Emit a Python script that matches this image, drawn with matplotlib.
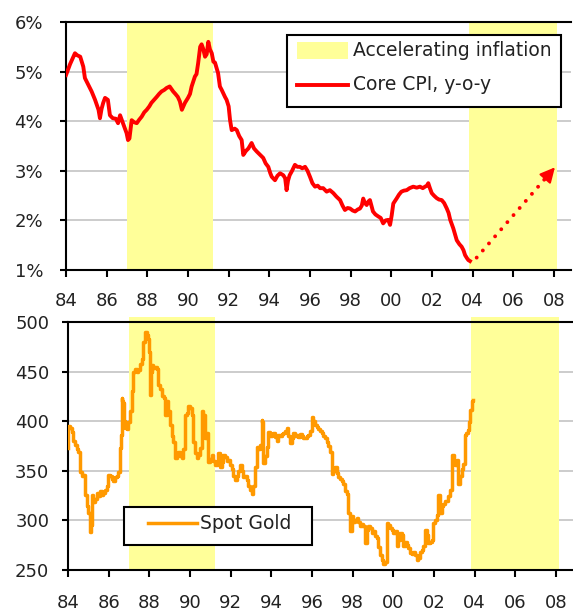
import matplotlib
matplotlib.use("Agg")
import matplotlib.pyplot as plt
from matplotlib.patches import Rectangle
from matplotlib.lines import Line2D

plt.rcParams['font.family'] = ['DejaVu Sans']

# Core CPI, year-over-year (%)
cpi_dates = [
    1984.0, 1984.2, 1984.44, 1984.55, 1984.7, 1984.85, 1984.93, 1985.1, 1985.26, 1985.43,
    1985.6, 1985.67, 1985.75, 1985.83, 1985.92, 1986.06, 1986.16, 1986.3, 1986.45, 1986.56,
    1986.66, 1986.8, 1986.98, 1987.05, 1987.12, 1987.23, 1987.35, 1987.48, 1987.6, 1987.72,
    1987.85, 1987.97, 1988.1, 1988.2, 1988.33, 1988.46, 1988.58, 1988.7, 1988.83, 1988.95,
    1989.1, 1989.27, 1989.38, 1989.5, 1989.6, 1989.7, 1989.85, 1990.0, 1990.1, 1990.18,
    1990.34, 1990.42, 1990.5, 1990.6, 1990.67, 1990.74, 1990.84, 1990.92, 1991.0, 1991.08,
    1991.17, 1991.25, 1991.33, 1991.48, 1991.57, 1991.66, 1991.82, 1991.9, 1992.0, 1992.07,
    1992.15, 1992.3, 1992.4, 1992.52, 1992.64, 1992.72, 1992.85, 1992.97, 1993.13, 1993.25,
    1993.38, 1993.55, 1993.7, 1993.82, 1993.95, 1994.05, 1994.12, 1994.28, 1994.4, 1994.53,
    1994.69, 1994.78, 1994.85, 1994.92, 1995.0, 1995.12, 1995.26, 1995.38, 1995.5, 1995.62,
    1995.76, 1995.88, 1996.0, 1996.12, 1996.25, 1996.38, 1996.5, 1996.65, 1996.82, 1996.98,
    1997.15, 1997.3, 1997.48, 1997.6, 1997.72, 1997.85, 1997.97, 1998.1, 1998.22, 1998.35,
    1998.46, 1998.55, 1998.62, 1998.7, 1998.79, 1998.87, 1998.95, 1999.02, 1999.1, 1999.22,
    1999.36, 1999.48, 1999.6, 1999.72, 1999.85, 1999.94, 2000.02, 2000.1, 2000.26, 2000.38,
    2000.5, 2000.62, 2000.76, 2000.9, 2001.08, 2001.25, 2001.41, 2001.55, 2001.66, 2001.75,
    2001.82, 2001.9, 2001.99, 2002.1, 2002.23, 2002.35, 2002.48, 2002.6, 2002.73, 2002.82,
    2002.9, 2003.05, 2003.15, 2003.22, 2003.35, 2003.46, 2003.55, 2003.63, 2003.72, 2003.79,
    2003.87,
]
cpi_values = [
    4.93, 5.15, 5.37, 5.33, 5.30, 5.10, 4.87, 4.73, 4.60, 4.43,
    4.23, 4.06, 4.25, 4.37, 4.47, 4.43, 4.12, 4.06, 4.05, 3.96,
    4.12, 3.96, 3.76, 3.62, 3.65, 4.02, 3.98, 3.96, 4.03, 4.09,
    4.18, 4.23, 4.30, 4.37, 4.43, 4.49, 4.55, 4.60, 4.63, 4.67,
    4.70, 4.60, 4.55, 4.49, 4.40, 4.23, 4.37, 4.47, 4.55, 4.70,
    4.90, 4.95, 5.17, 5.50, 5.55, 5.47, 5.30, 5.35, 5.60, 5.45,
    5.37, 5.20, 5.18, 4.97, 4.70, 4.63, 4.49, 4.43, 4.30, 4.02,
    3.82, 3.85, 3.82, 3.70, 3.62, 3.32, 3.40, 3.45, 3.56, 3.45,
    3.39, 3.32, 3.26, 3.15, 3.08, 2.95, 2.88, 2.81, 2.90, 2.95,
    2.91, 2.85, 2.61, 2.80, 2.91, 3.00, 3.12, 3.08, 3.08, 3.05,
    3.08, 3.00, 2.88, 2.75, 2.68, 2.70, 2.65, 2.65, 2.58, 2.61,
    2.55, 2.48, 2.41, 2.30, 2.21, 2.25, 2.24, 2.20, 2.18, 2.22,
    2.24, 2.30, 2.44, 2.35, 2.31, 2.38, 2.41, 2.30, 2.18, 2.12,
    2.08, 2.05, 1.94, 2.00, 2.01, 1.91, 2.10, 2.34, 2.44, 2.52,
    2.58, 2.60, 2.61, 2.65, 2.68, 2.66, 2.68, 2.65, 2.68, 2.70,
    2.75, 2.65, 2.55, 2.50, 2.45, 2.42, 2.41, 2.35, 2.24, 2.15,
    2.01, 1.84, 1.70, 1.60, 1.52, 1.47, 1.40, 1.30, 1.24, 1.20,
    1.18,
]

# Spot gold price (USD/oz)
gold_dates = [
    1984.0, 1984.02, 1984.1, 1984.18, 1984.26, 1984.34, 1984.42, 1984.5, 1984.59, 1984.67,
    1984.75, 1984.84, 1984.92, 1985.0, 1985.08, 1985.12, 1985.16, 1985.25, 1985.33, 1985.41,
    1985.5, 1985.58, 1985.66, 1985.74, 1985.82, 1985.9, 1985.98, 1986.06, 1986.15, 1986.23,
    1986.31, 1986.39, 1986.47, 1986.56, 1986.62, 1986.64, 1986.68, 1986.72, 1986.76, 1986.8,
    1986.88, 1986.97, 1987.05, 1987.13, 1987.21, 1987.3, 1987.38, 1987.46, 1987.54, 1987.62,
    1987.7, 1987.79, 1987.87, 1987.95, 1988.0, 1988.03, 1988.07, 1988.12, 1988.2, 1988.28,
    1988.36, 1988.45, 1988.54, 1988.62, 1988.7, 1988.78, 1988.86, 1988.94, 1989.02, 1989.1,
    1989.18, 1989.26, 1989.35, 1989.43, 1989.51, 1989.59, 1989.67, 1989.75, 1989.83, 1989.92,
    1990.0, 1990.08, 1990.16, 1990.25, 1990.33, 1990.41, 1990.49, 1990.58, 1990.66, 1990.74,
    1990.82, 1990.9, 1990.98, 1991.07, 1991.15, 1991.23, 1991.31, 1991.39, 1991.48, 1991.56,
    1991.64, 1991.72, 1991.8, 1991.89, 1991.97, 1992.05, 1992.13, 1992.21, 1992.3, 1992.38,
    1992.46, 1992.54, 1992.62, 1992.7, 1992.79, 1992.87, 1992.95, 1993.03, 1993.12, 1993.2,
    1993.28, 1993.36, 1993.44, 1993.52, 1993.56, 1993.61, 1993.69, 1993.77, 1993.85, 1993.94,
    1994.02, 1994.1, 1994.18, 1994.27, 1994.35, 1994.43, 1994.52, 1994.6, 1994.68, 1994.76,
    1994.84, 1994.92, 1995.0, 1995.08, 1995.16, 1995.25, 1995.33, 1995.41, 1995.5, 1995.58,
    1995.66, 1995.74, 1995.82, 1995.9, 1995.99, 1996.07, 1996.15, 1996.23, 1996.32, 1996.4,
    1996.48, 1996.56, 1996.64, 1996.73, 1996.81, 1996.89, 1996.97, 1997.05, 1997.13, 1997.21,
    1997.3, 1997.38, 1997.46, 1997.54, 1997.62, 1997.71, 1997.79, 1997.87, 1997.95, 1998.03,
    1998.12, 1998.2, 1998.28, 1998.36, 1998.44, 1998.53, 1998.61, 1998.69, 1998.77, 1998.86,
    1998.94, 1999.02, 1999.1, 1999.18, 1999.26, 1999.35, 1999.43, 1999.51, 1999.59, 1999.67,
    1999.75, 1999.83, 1999.92, 2000.0, 2000.08, 2000.16, 2000.25, 2000.33, 2000.41, 2000.49,
    2000.57, 2000.66, 2000.74, 2000.82, 2000.9, 2000.99, 2001.07, 2001.15, 2001.23, 2001.32,
    2001.4, 2001.48, 2001.56, 2001.64, 2001.72, 2001.8, 2001.89, 2001.97, 2002.05, 2002.13,
    2002.21, 2002.3, 2002.38, 2002.46, 2002.54, 2002.62, 2002.7, 2002.79, 2002.87, 2002.9,
    2002.98, 2003.05, 2003.12, 2003.2, 2003.28, 2003.36, 2003.44, 2003.52, 2003.6, 2003.69,
    2003.72, 2003.77, 2003.85, 2003.93,
]
gold_values = [
    373, 395, 393, 389, 380, 376, 372, 369, 349, 345,
    346, 326, 315, 307, 288, 295, 326, 319, 322, 328,
    325, 330, 326, 328, 331, 335, 346, 345, 342, 340,
    344, 345, 349, 373, 386, 423, 420, 418, 400, 393,
    392, 399, 410, 430, 450, 453, 450, 452, 458, 463,
    480, 490, 487, 483, 470, 426, 450, 457, 454, 455,
    453, 436, 432, 425, 423, 406, 420, 410, 396, 385,
    379, 363, 365, 369, 365, 363, 372, 406, 408, 415,
    413, 406, 379, 368, 363, 366, 373, 410, 406, 383,
    388, 359, 362, 366, 360, 356, 360, 368, 354, 359,
    366, 364, 360, 361, 356, 352, 345, 341, 345, 350,
    356, 350, 344, 345, 341, 335, 331, 327, 335, 354,
    374, 372, 376, 401, 399, 358, 365, 374, 389, 385,
    386, 388, 384, 380, 386, 385, 387, 388, 390, 393,
    385, 378, 383, 388, 385, 386, 384, 387, 385, 383,
    383, 385, 386, 390, 404, 400, 396, 394, 392, 390,
    388, 385, 383, 379, 375, 369, 347, 350, 354, 348,
    344, 342, 340, 337, 330, 327, 307, 289, 304, 298,
    300, 302, 298, 294, 296, 294, 277, 290, 294, 292,
    287, 289, 284, 282, 273, 265, 260, 256, 258, 297,
    295, 292, 290, 287, 289, 274, 280, 287, 285, 274,
    278, 275, 272, 267, 266, 268, 265, 260, 262, 268,
    270, 274, 290, 285, 277, 278, 280, 297, 300, 305,
    326, 307, 315, 317, 320, 320, 325, 331, 347, 366,
    360, 356, 361, 337, 345, 352, 357, 386, 388, 391,
    399, 411, 420, 421,
]

# Periods of accelerating inflation (start, end)
accel_periods = [(1987.0, 1991.25), (2003.8, 2008.15)]

# Projected CPI path (from, to)
proj_start = (2004.2, 1.25)
proj_end = (2008.05, 3.07)

year_ticks = list(range(1984, 2010, 2))
year_labels = ['84', '86', '88', '90', '92', '94', '96', '98', '00', '02', '04', '06', '08']
cpi_ticks = [1, 2, 3, 4, 5, 6]
cpi_labels = ['1%', '2%', '3%', '4%', '5%', '6%']
gold_ticks = [250, 300, 350, 400, 450, 500]
gold_labels = ['250', '300', '350', '400', '450', '500']

YELLOW = '#ffff99'
RED = '#ff0000'
ORANGE = '#ff9900'
GRID = '#c8c8c8'
TEXT = '#222222'
FS = 13
LEG_FS = 13.5

W, H = 573, 612
fig = plt.figure(figsize=(W / 100, H / 100), dpi=100)


def frac(x0, y0, x1, y1):
    """Pixel box (top-left origin) to figure-fraction rect."""
    return [x0 / W, 1 - y1 / H, (x1 - x0) / W, (y1 - y0) / H]


def fx(px):
    return px / W


def fy(py):
    return 1 - py / H


ax1 = fig.add_axes(frac(66, 22, 571, 270))
ax2 = fig.add_axes(frac(68, 322, 573, 570))

xmin, xmax = 1984.0, 2008.84


def style(ax, yticks, ylabels, ylim, ypad, xpad):
    ax.set_xlim(xmin, xmax)
    ax.set_ylim(*ylim)
    ax.set_xticks(year_ticks)
    ax.set_xticklabels(year_labels)
    ax.set_yticks(yticks)
    ax.set_yticklabels(ylabels)
    ax.tick_params(axis='y', direction='out', length=4.5, width=1.5, pad=ypad,
                   labelsize=FS, labelcolor=TEXT)
    ax.tick_params(axis='x', direction='out', length=5, width=1.5, pad=xpad,
                   labelsize=FS, labelcolor=TEXT)
    for side in ('left', 'bottom', 'top'):
        ax.spines[side].set_linewidth(1.5)
        ax.spines[side].set_color('black')
    ax.spines['right'].set_visible(False)
    ax.yaxis.grid(True, color=GRID, linewidth=1.3, zorder=0)
    ax.set_axisbelow(True)


# Top panel: core CPI
style(ax1, cpi_ticks, cpi_labels, (1, 6), 12, 11)
for a, b in accel_periods:
    ax1.axvspan(a, b, color=YELLOW, lw=0, zorder=1)
ax1.plot(cpi_dates, cpi_values, color=RED, lw=2.8, zorder=3)

# Projected path: dotted shaft plus a solid arrowhead at its end
ax1.plot([proj_start[0], proj_end[0]], [proj_start[1], proj_end[1]],
         color=RED, lw=2.8, linestyle=(0, (0.01, 2.4)),
         dash_capstyle='round', zorder=3)
head_from = (proj_end[0] - 0.06 * (proj_end[0] - proj_start[0]),
             proj_end[1] - 0.06 * (proj_end[1] - proj_start[1]))
ax1.annotate('', xy=proj_end, xytext=head_from,
             arrowprops=dict(arrowstyle='-|>,head_length=0.9,head_width=0.45',
                             color=RED, lw=1.5, shrinkA=0, shrinkB=0),
             zorder=3)

# Top legend
fig.add_artist(Rectangle((fx(287), fy(107)), fx(561) - fx(287), fy(35) - fy(107),
                         transform=fig.transFigure, facecolor='white',
                         edgecolor='black', lw=1.5, zorder=5))
fig.add_artist(Rectangle((fx(297), fy(59)), fx(348) - fx(297), fy(42) - fy(59),
                         transform=fig.transFigure, facecolor=YELLOW,
                         edgecolor='none', zorder=6))
fig.add_artist(Line2D([fx(297), fx(348)], [fy(85), fy(85)],
                      transform=fig.transFigure, color=RED, lw=2.8, zorder=6))
fig.text(fx(353), fy(56), 'Accelerating inflation', fontsize=LEG_FS, color=TEXT,
         va='baseline', ha='left', zorder=7)
fig.text(fx(353), fy(90), 'Core CPI, y-o-y', fontsize=LEG_FS, color=TEXT,
         va='baseline', ha='left', zorder=7)

# Bottom panel: spot gold
style(ax2, gold_ticks, gold_labels, (250, 500), 9, 12)
for a, b in accel_periods:
    ax2.axvspan(a, b, ymin=0, ymax=1.02, color=YELLOW, lw=0, zorder=1,
                clip_on=False)
ax2.plot(gold_dates, gold_values, color=ORANGE, lw=2.5, zorder=3,
         drawstyle='steps-post')

# Bottom legend
fig.add_artist(Rectangle((fx(124), fy(545)), fx(312) - fx(124), fy(507) - fy(545),
                         transform=fig.transFigure, facecolor='white',
                         edgecolor='black', lw=1.5, zorder=5))
fig.add_artist(Line2D([fx(148), fx(197)], [fy(523), fy(523)],
                      transform=fig.transFigure, color=ORANGE, lw=2.5, zorder=6))
fig.text(fx(200), fy(529), 'Spot Gold', fontsize=LEG_FS, color=TEXT,
         va='baseline', ha='left', zorder=7)

fig.savefig('out.png', dpi=100)
